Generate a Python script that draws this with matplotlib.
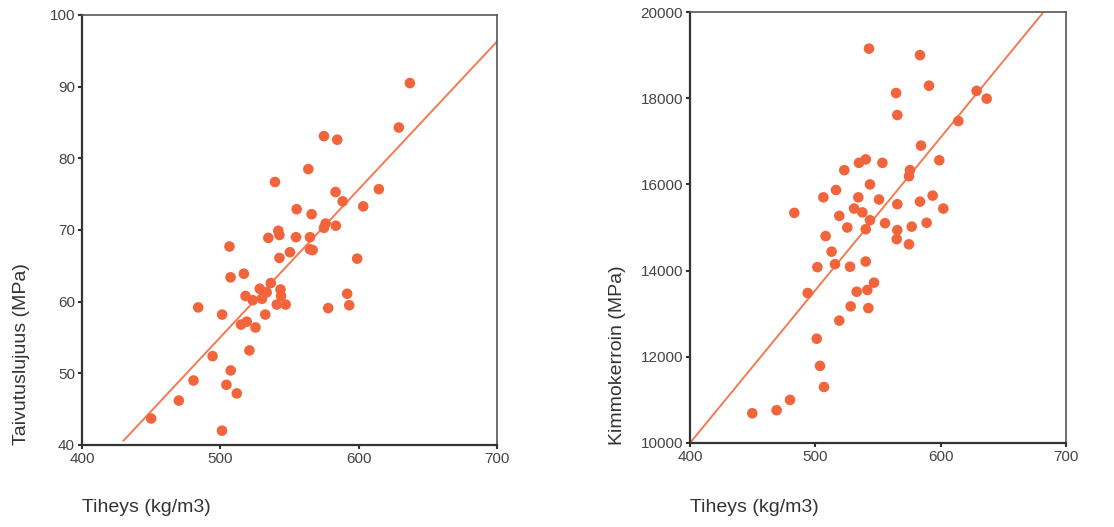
import matplotlib
matplotlib.use('Agg')
from matplotlib import pyplot as plt

plt.rcParams['font.family'] = ['Liberation Sans', 'DejaVu Sans']

# Taivutuslujuus vs tiheys (left chart)
x_left = [450, 470, 480.6, 484, 494.4, 501.3, 501.2, 504.4, 506.6, 507.4, 507.5,
          511.9, 515, 517, 519.1, 518.2, 521, 523.4, 525.4, 528.5, 530.1, 532.5,
          533.5, 534.7, 536.5, 539.5, 541.9, 542.7, 542.7, 543.5, 543.9, 540.8,
          547.2, 550.3, 554.7, 555.2, 563.6, 564.8, 564.8, 566, 566.7, 574.9,
          574.9, 576.1, 578, 583.3, 583.5, 584.5, 588.4, 591.7, 593.2, 598.9,
          603.3, 614.6, 629, 637]
y_left = [43.7, 46.2, 49.0, 59.2, 52.4, 58.2, 42.0, 48.4, 67.7, 63.4, 50.4,
          47.2, 56.8, 63.9, 57.2, 60.8, 53.2, 60.2, 56.4, 61.8, 60.4, 58.2,
          61.3, 68.9, 62.6, 76.7, 69.9, 69.3, 66.1, 61.7, 60.8, 59.6,
          59.6, 66.9, 69.0, 72.9, 78.5, 69.0, 67.3, 72.2, 67.2, 83.1,
          70.3, 70.9, 59.1, 75.3, 70.6, 82.6, 74.0, 61.1, 59.5, 66.0,
          73.3, 75.7, 84.3, 90.5]
fit_left_x = [430, 700]
fit_left_y = [40.6, 96.3]

# Kimmokerroin vs tiheys (right chart)
x_right = [449.7, 469.1, 479.8, 483.2, 493.9, 501.1, 501.6, 503.7, 506.9, 506.4,
           508.2, 513.0, 515.7, 516.5, 519.1, 519.1, 523.1, 525.5, 527.7, 528.2,
           530.9, 533.0, 534.3, 534.8, 537.5, 540.2, 540.2, 540.2, 541.5, 542.3,
           542.8, 543.6, 543.6, 546.8, 550.8, 553.5, 555.6, 564.4, 565.4, 565.4,
           565.4, 564.9, 574.7, 575.5, 574.7, 576.9, 583.5, 583.5, 584.3, 588.8,
           590.7, 593.6, 598.9, 602.1, 614.1, 628.7, 636.7]
y_right = [10690, 10760, 11000, 15340, 13480, 12420, 14080, 11790, 11300, 15700,
           14800, 14440, 14150, 15870, 15270, 12840, 16330, 15000, 14090, 13170,
           15440, 13510, 15700, 16500, 15350, 16580, 14210, 14960, 13550, 13130,
           19150, 16000, 15170, 13720, 15650, 16500, 15100, 18120, 17610, 15540,
           14940, 14730, 14610, 16330, 16190, 15020, 19000, 15600, 16900, 15110,
           18290, 15740, 16560, 15440, 17470, 18170, 17990]
fit_right_x = [400, 681]
fit_right_y = [10000, 19960]

dot_color = '#F2643C'
line_color = '#F47A52'

fig = plt.figure(figsize=(11.14, 5.27), dpi=100)
ax1 = fig.add_axes([82 / 1114, 1 - 445 / 527, 415 / 1114, 430 / 527])
ax2 = fig.add_axes([690 / 1114, 1 - 443 / 527, 376 / 1114, 431 / 527])


def style_axes(ax):
    for side in ['left', 'bottom']:
        ax.spines[side].set_color('#333333')
        ax.spines[side].set_linewidth(1.6)
    for side in ['top', 'right']:
        ax.spines[side].set_color('#555555')
        ax.spines[side].set_linewidth(1.2)
    ax.tick_params(direction='out', length=3, width=1.5, color='#333333',
                   labelsize=11, labelcolor='#444444', pad=2)


ax1.plot(fit_left_x, fit_left_y, color=line_color, lw=1.4, zorder=2)
ax1.scatter(x_left, y_left, s=58, color=dot_color, edgecolors='none', zorder=3)
ax1.set_xlim(400, 700)
ax1.set_ylim(40, 100)
ax1.set_xticks([400, 500, 600, 700])
ax1.set_yticks([40, 50, 60, 70, 80, 90, 100])
style_axes(ax1)

ax2.plot(fit_right_x, fit_right_y, color=line_color, lw=1.4, zorder=2)
ax2.scatter(x_right, y_right, s=58, color=dot_color, edgecolors='none', zorder=3)
ax2.set_xlim(400, 700)
ax2.set_ylim(10000, 20000)
ax2.set_xticks([400, 500, 600, 700])
ax2.set_yticks([10000, 12000, 14000, 16000, 18000, 20000])
style_axes(ax2)

# axis titles placed like in the original layout
fig.text(82 / 1114, 1 - 508 / 527, 'Tiheys (kg/m3)', fontsize=14,
         color='#333333', ha='left', va='center')
fig.text(690 / 1114, 1 - 508 / 527, 'Tiheys (kg/m3)', fontsize=14,
         color='#333333', ha='left', va='center')
fig.text(22 / 1114, 1 - 445 / 527, 'Taivutuslujuus (MPa)', fontsize=14,
         color='#333333', rotation=90, ha='center', va='bottom')
fig.text(617 / 1114, 1 - 445 / 527, 'Kimmokerroin (MPa)', fontsize=14,
         color='#333333', rotation=90, ha='center', va='bottom')

fig.savefig('out.png', dpi=100)
